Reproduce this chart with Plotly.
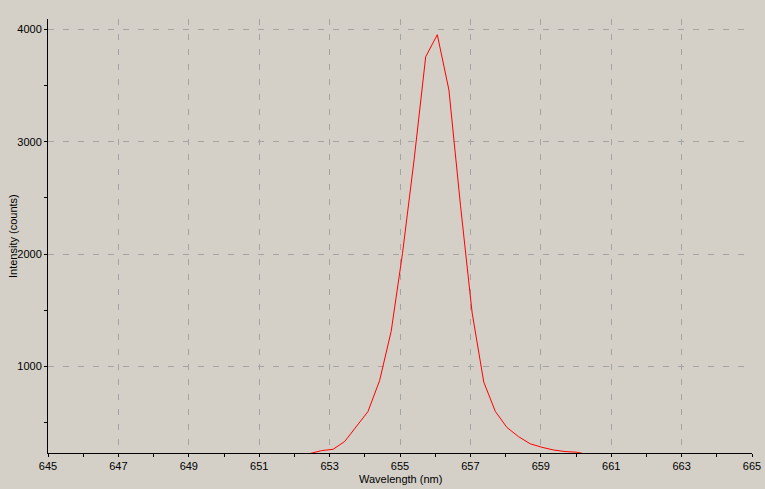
import plotly.graph_objects as go

# spectrum (H-alpha line)
wavelength = [652.11, 652.44, 652.77, 653.10, 653.43, 653.76, 654.09, 654.42,
              654.75, 655.07, 655.40, 655.73, 656.06, 656.39, 656.72, 657.05,
              657.38, 657.71, 658.04, 658.37, 658.70, 659.03, 659.36, 659.69,
              660.02, 660.35]
intensity = [215, 224, 250, 262, 332, 462, 598, 873,
             1313, 2003, 2838, 3756, 3952, 3460, 2429, 1475,
             860, 598, 456, 374, 311, 280, 256, 242,
             236, 215]

x_range = [645, 665]
y_range = [229, 4092]

bg = "#D4D0C8"
grid_col = "#A4A4A4"

fig = go.Figure()
fig.add_trace(go.Scatter(x=wavelength, y=intensity, mode="lines",
                         line=dict(color="#FF0000", width=1), showlegend=False))

fig.update_layout(
    width=765, height=489,
    paper_bgcolor=bg, plot_bgcolor=bg,
    margin=dict(l=48, r=13, t=19, b=36),
    font=dict(family="Liberation Sans, Arial, sans-serif", size=11, color="black"),
)

fig.update_xaxes(
    range=x_range, tick0=645, dtick=2, automargin=False,
    showline=True, linecolor="black", linewidth=1,
    ticks="outside", ticklen=3, tickcolor="black",
    showgrid=True, gridcolor=grid_col, gridwidth=1, griddash="6px,9px",
    minor=dict(dtick=1, ticks="outside", ticklen=3, tickcolor="black", showgrid=False),
    zeroline=False,
)
fig.update_yaxes(
    range=y_range, tick0=0, dtick=1000, automargin=False,
    showline=True, linecolor="black", linewidth=1,
    ticks="outside", ticklen=3, tickcolor="black",
    showgrid=True, gridcolor=grid_col, gridwidth=1, griddash="6px,9px",
    minor=dict(dtick=500, ticks="outside", ticklen=3, tickcolor="black", showgrid=False),
    zeroline=False,
)

# axis titles placed as annotations so the margins stay fixed
fig.add_annotation(text="Wavelength (nm)", xref="paper", yref="paper",
                   x=0.5, y=0, yanchor="middle", yshift=-26, showarrow=False)
fig.add_annotation(text="Intensity (counts)", xref="paper", yref="paper",
                   x=0, y=0.5, xanchor="center", xshift=-35, textangle=-90,
                   showarrow=False)

# drop the browser's default page margin so the figure fills the window
fig.write_html("out.html", config={"displayModeBar": False},
               post_script="document.body.style.margin='0';")
